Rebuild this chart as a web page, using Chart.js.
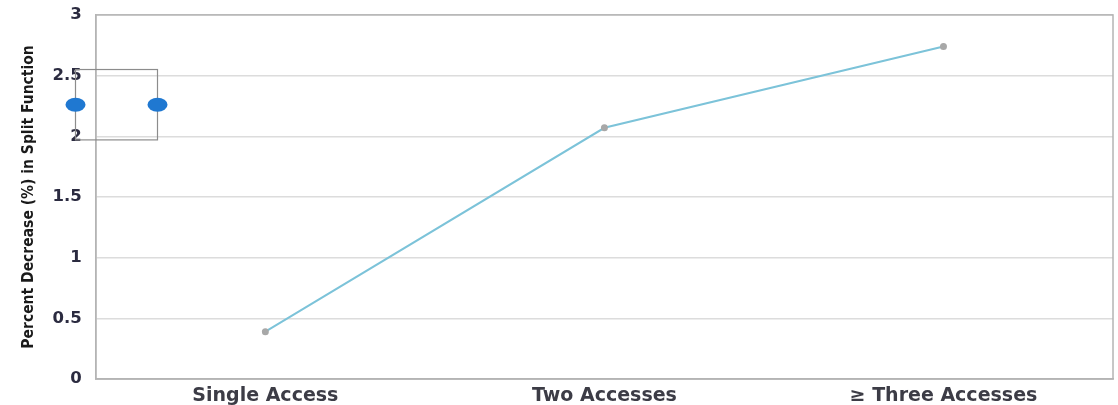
<!DOCTYPE html>
<html>
<head>
<meta charset="utf-8">
<script src="https://cdn.jsdelivr.net/npm/chart.js@4"></script>
<style>
  html, body { margin: 0; padding: 0; background: #fff; }
  #wrap { width: 1118px; height: 405px; overflow: hidden; }
  #split-chart { display: block; margin-top: -9px; }
</style>
</head>
<body>
<div id="wrap"><canvas id="split-chart" width="1118" height="414"></canvas></div>

<script>
var categories = ["Single Access", "Two Accesses", "\u2265 Three Accesses"];
var decreaseValues = [0.39, 2.07, 2.74];
var yTicks = [0, 0.5, 1, 1.5, 2, 2.5, 3];

// plot frame on all four sides plus the stray selection bracket from the original
var framePlugin = {
  id: "frame",
  afterDraw: function (chart) {
    var ctx = chart.ctx, a = chart.chartArea;
    ctx.save();
    ctx.strokeStyle = "#b4b4b4";
    ctx.lineWidth = 1.5;
    ctx.strokeRect(a.left, a.top, a.right - a.left, a.bottom - a.top);

    var y = chart.scales.y;
    var top = y.getPixelForValue(2.55), bottom = y.getPixelForValue(1.97);
    var mid = (top + bottom) / 2;
    ctx.strokeStyle = "#8c8c8c";
    ctx.lineWidth = 1.2;
    ctx.strokeRect(75.5, top, 82, bottom - top);
    ctx.fillStyle = "#1f78d1";
    [75.5, 157.5].forEach(function (x) {
      ctx.beginPath();
      ctx.ellipse(x, mid, 10, 7, 0, 0, Math.PI * 2);
      ctx.fill();
    });
    ctx.restore();
  }
};

var ctx = document.getElementById("split-chart");
var chart = new Chart(ctx, {
  type: "line",
  data: {
    labels: categories,
    datasets: [{
      data: decreaseValues,
      borderColor: "#7cc3d9",
      borderWidth: 2,
      pointRadius: 2.5,
      pointBackgroundColor: "#a8a8a8",
      pointBorderColor: "#a8a8a8",
      tension: 0
    }]
  },
  options: {
    responsive: false,
    animation: false,
    layout: { autoPadding: false, padding: { top: 5, right: 5, left: 16, bottom: -1 } },
    plugins: { legend: { display: false }, tooltip: { enabled: false } },
    scales: {
      x: {
        offset: true,
        grid: { display: false },
        border: { color: "#b4b4b4", width: 1.5 },
        ticks: {
          color: "#3c3c46",
          font: { family: "DejaVu Sans", size: 19, weight: "bold", lineHeight: 1 },
          padding: 0
        }
      },
      y: {
        min: 0,
        max: 3,
        afterBuildTicks: function (axis) {
          axis.ticks = yTicks.map(function (v) { return { value: v }; });
        },
        grid: { color: "#dcdcdc", lineWidth: 1.5, drawTicks: false },
        border: { color: "#b4b4b4", width: 1.5 },
        ticks: {
          color: "#2b2b40",
          font: { family: "DejaVu Sans", size: 16.5, weight: "bold" },
          padding: 14,
          callback: function (v) { return String(v); }
        },
        title: {
          display: true,
          text: "Percent Decrease (%) in Split Function",
          color: "#1a1a1a",
          font: { family: "'DejaVu Sans Condensed', 'Liberation Sans'", size: 15.5, weight: "bold" },
          padding: { top: 4, bottom: 0 }
        }
      }
    }
  },
  plugins: [framePlugin]
});
</script>
</body>
</html>
